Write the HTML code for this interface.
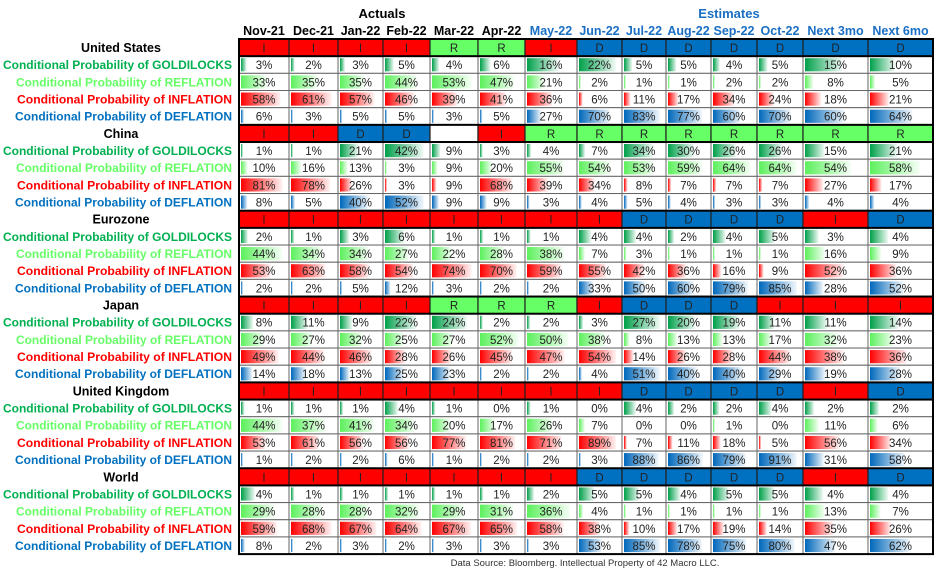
<!DOCTYPE html>
<html><head><meta charset="utf-8"><style>
html,body{margin:0;padding:0;background:#fff;}
svg{display:block;font-family:"Liberation Sans",sans-serif;}
</style></head><body>
<svg id="chart" width="936" height="570" viewBox="0 0 936 570" xmlns="http://www.w3.org/2000/svg">
<defs>
<linearGradient id="gG" x1="0" x2="1"><stop offset="0" stop-color="#00a04a"/><stop offset="1" stop-color="#00a04a" stop-opacity="0.05"/></linearGradient>
<linearGradient id="gR" x1="0" x2="1"><stop offset="0" stop-color="#5cf05c"/><stop offset="1" stop-color="#5cf05c" stop-opacity="0.05"/></linearGradient>
<linearGradient id="gI" x1="0" x2="1"><stop offset="0" stop-color="#ff0000"/><stop offset="1" stop-color="#ff0000" stop-opacity="0.05"/></linearGradient>
<linearGradient id="gD" x1="0" x2="1"><stop offset="0" stop-color="#0068bb"/><stop offset="1" stop-color="#0068bb" stop-opacity="0.05"/></linearGradient>
</defs>
<text x="382" y="18" text-anchor="middle" font-weight="bold" font-size="13" fill="#000">Actuals</text>
<text x="729" y="18" text-anchor="middle" font-weight="bold" font-size="13" fill="#1a6fc4">Estimates</text>
<text x="585" y="566" text-anchor="middle" font-size="9.5" fill="#333">Data Source: Bloomberg. Intellectual Property of 42 Macro LLC.</text>
<g id="grid"></g>
</svg>
<script>
const months = ["Nov-21","Dec-21","Jan-22","Feb-22","Mar-22","Apr-22","May-22","Jun-22","Jul-22","Aug-22","Sep-22","Oct-22","Next 3mo","Next 6mo"];
const regions = ["United States","China","Eurozone","Japan","United Kingdom","World"];
const metricLabels = ["Conditional Probability of GOLDILOCKS","Conditional Probability of REFLATION","Conditional Probability of INFLATION","Conditional Probability of DEFLATION"];
const usRegime = ["I","I","I","I","R","R","I","D","D","D","D","D","D","D"];
const usG = [3,2,3,5,4,6,16,22,5,5,4,5,15,10];
const usR = [33,35,35,44,53,47,21,2,1,1,2,2,8,5];
const usI = [58,61,57,46,39,41,36,6,11,17,34,24,18,21];
const usD = [6,3,5,5,3,5,27,70,83,77,60,70,60,64];
const cnRegime = ["I","I","D","D","","I","R","R","R","R","R","R","R","R"];
const cnG = [1,1,21,42,9,3,4,7,34,30,26,26,15,21];
const cnR = [10,16,13,3,9,20,55,54,53,59,64,64,54,58];
const cnI = [81,78,26,3,9,68,39,34,8,7,7,7,27,17];
const cnD = [8,5,40,52,9,9,3,4,5,4,3,3,4,4];
const ezRegime = ["I","I","I","I","I","I","I","I","D","D","D","D","I","D"];
const ezG = [2,1,3,6,1,1,1,4,4,2,4,5,3,4];
const ezR = [44,34,34,27,22,28,38,7,3,1,1,1,16,9];
const ezI = [53,63,58,54,74,70,59,55,42,36,16,9,52,36];
const ezD = [2,2,5,12,3,2,2,33,50,60,79,85,28,52];
const jpRegime = ["I","I","I","I","R","R","R","I","D","D","D","I","I","I"];
const jpG = [8,11,9,22,24,2,2,3,27,20,19,11,11,14];
const jpR = [29,27,32,25,27,52,50,38,8,13,13,17,32,23];
const jpI = [49,44,46,28,26,45,47,54,14,26,28,44,38,36];
const jpD = [14,18,13,25,23,2,2,4,51,40,40,29,19,28];
const ukRegime = ["I","I","I","I","I","I","I","I","D","D","D","D","I","D"];
const ukG = [1,1,1,4,1,0,1,0,4,2,2,4,2,2];
const ukR = [44,37,41,34,20,17,26,7,0,0,1,0,11,6];
const ukI = [53,61,56,56,77,81,71,89,7,11,18,5,56,34];
const ukD = [1,2,2,6,1,2,2,3,88,86,79,91,31,58];
const wdRegime = ["I","I","I","I","I","I","I","D","D","D","D","D","I","D"];
const wdG = [4,1,1,1,1,1,2,5,5,4,5,5,4,4];
const wdR = [29,28,28,32,29,31,36,4,1,1,1,1,13,7];
const wdI = [59,68,67,64,67,65,58,38,10,17,19,14,35,26];
const wdD = [8,2,3,2,3,3,3,53,85,78,75,80,47,62];

const regimes = [usRegime,cnRegime,ezRegime,jpRegime,ukRegime,wdRegime];
const probs = [[usG,usR,usI,usD],[cnG,cnR,cnI,cnD],[ezG,ezR,ezI,ezD],[jpG,jpR,jpI,jpD],[ukG,ukR,ukI,ukD],[wdG,wdR,wdI,wdD]];

const NS = "http://www.w3.org/2000/svg";
const svg = document.getElementById("grid");
const colEdges = [239,289,338,383,430,478,525,577,622,666,711,757,803,868,933];
const top0 = 39, rowH = 17.17;
const rowY = i => top0 + i*rowH;
const labelColors = ["#00b050","#66ff66","#ff0000","#0070c0"];
const labelStart = [3,16,17,15];
const barFill = ["url(#gG)","url(#gR)","url(#gI)","url(#gD)"];
const regimeFill = {"I":"#ff0000","R":"#66ff66","D":"#0070c0","":"#ffffff"};
const metricKeys = ["goldilocks","reflation","inflation","deflation"];

function mk(tag, attrs){ const e=document.createElementNS(NS,tag); for(const k in attrs) e.setAttribute(k,attrs[k]); return e; }

months.forEach((m,c)=>{
  const t = mk("text",{x:(colEdges[c]+colEdges[c+1])/2, y:35, "text-anchor":"middle","font-weight":"bold","font-size":"12.5",fill: c<6?"#000":"#1a6fc4"});
  
  
  t.textContent = m; svg.appendChild(t);
});

regions.forEach((reg,r)=>{
  const hy = rowY(r*5);
  const rt = mk("text",{x:121,y:hy+13,"text-anchor":"middle","font-weight":"bold","font-size":"12.5",fill:"#000"});
  
  
  rt.textContent = reg; svg.appendChild(rt);
  regimes[r].forEach((g,c)=>{
    const x0=colEdges[c], w=colEdges[c+1]-x0;
    const rc = mk("rect",{x:x0,y:hy,width:w,height:rowH,fill:regimeFill[g],stroke:"#222","stroke-width":"1.2"});
    
    
    svg.appendChild(rc);
    if(g){
      const tt = mk("text",{x:x0+w/2,y:hy+13,"text-anchor":"middle","font-size":"11.5",fill:"#222"});
      
      
      tt.textContent = g; svg.appendChild(tt);
    }
  });
  probs[r].forEach((vals,k)=>{
    const y = rowY(r*5+1+k);
    const lt = mk("text",{x:labelStart[k],y:y+13,"font-weight":"bold","font-size":"12",fill:labelColors[k],textLength:232-labelStart[k],lengthAdjust:"spacingAndGlyphs"});
    
    
    lt.textContent = metricLabels[k]; svg.appendChild(lt);
    const mx = Math.max(...vals,12);
    vals.forEach((v,c)=>{
      const x0=colEdges[c], w=colEdges[c+1]-x0;
      const cell = mk("rect",{x:x0,y:y,width:w,height:rowH,fill:"#fff",stroke:"#666","stroke-width":"1"});
      
      
      svg.appendChild(cell);
      if(v>0){
        const bw = Math.max(2, (v/mx)*0.9*(w-4));
        const bar = mk("rect",{x:x0+2,y:y+2,width:bw,height:rowH-4,fill:barFill[k]});
        
        
        svg.appendChild(bar);
      }
      const vt = mk("text",{x:x0+w/2,y:y+13,"text-anchor":"middle","font-size":"11.5",fill:"#222"});
      
      
      vt.textContent = v+"%"; svg.appendChild(vt);
    });
  });
  const box = mk("rect",{x:colEdges[0],y:hy,width:colEdges[14]-colEdges[0],height:rowH,fill:"none",stroke:"#000","stroke-width":"2"});
  
  
  svg.appendChild(box);
});
const outer = mk("rect",{x:colEdges[0],y:top0,width:colEdges[14]-colEdges[0],height:rowH*30,fill:"none",stroke:"#000","stroke-width":"2"});


svg.appendChild(outer);
</script>
</body></html>
